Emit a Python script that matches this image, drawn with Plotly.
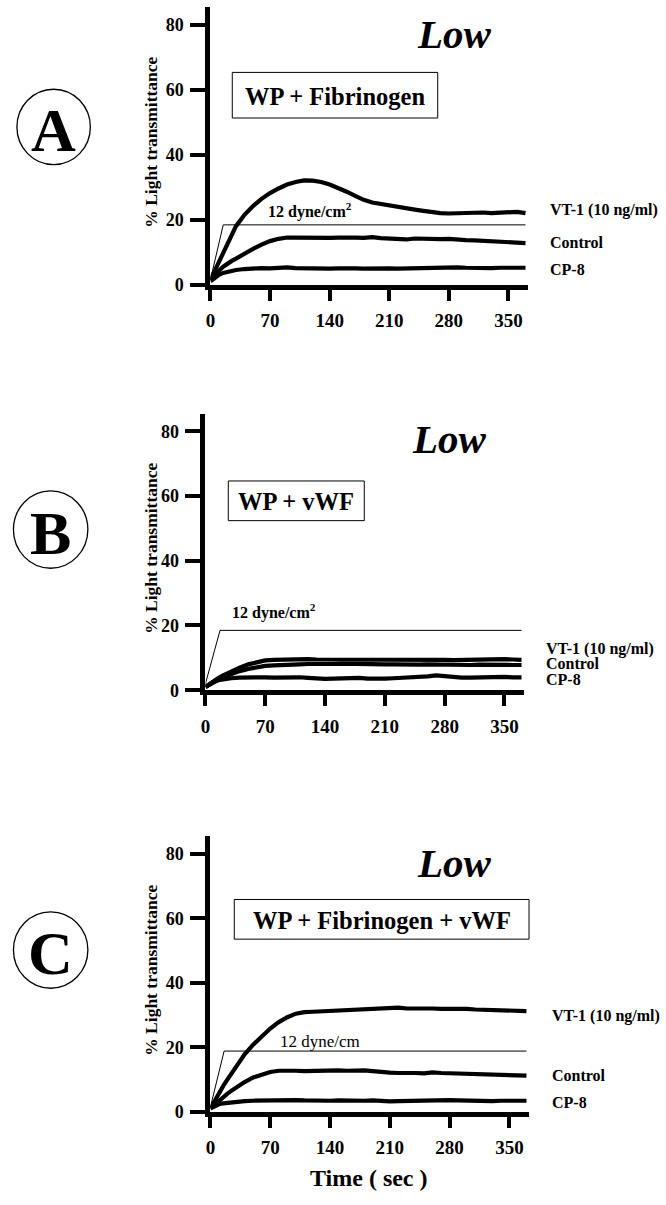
import plotly.graph_objects as go

W, H = 666, 1205

# ---------------- data ----------------
t = [0, 5, 10, 15, 20, 25, 30, 40, 50, 60, 70, 80, 90, 100, 110, 120, 130, 140, 150, 160,
     170, 180, 190, 200, 210, 220, 230, 240, 250, 260, 270, 280, 290, 300, 310, 320, 330,
     340, 350, 360, 370]

a_vt1 = [1.5, 4.3, 7.2, 10, 12.8, 15.4, 18, 21.5, 24.2, 26.4, 28.2, 29.6, 30.8, 31.6, 32.1,
         32, 31.6, 30.8, 29.8, 28.6, 27.3, 26.1, 25.3, 24.8, 24.4, 24, 23.6, 23.1, 22.7, 22.3,
         22, 21.9, 22, 21.9, 22.1, 22.2, 22, 22.2, 22.1, 22.4, 22]
a_ctrl = [1.5, 3, 4.3, 5.5, 6.5, 7.3, 8, 9.6, 11, 12.3, 13.4, 14.1, 14.5, 14.5, 14.4, 14.6,
          14.5, 14.4, 14.5, 14.6, 14.5, 14.4, 14.6, 14.3, 14.1, 14, 13.9, 14.2, 14.1, 13.9,
          14, 14.1, 13.8, 13.7, 13.6, 13.5, 13.4, 13.3, 13.2, 13, 12.8]
a_cp8 = [1, 2.2, 3, 3.6, 4, 4.3, 4.5, 4.8, 5, 5.1, 5, 5.2, 5.3, 5.1, 5, 5.2, 5, 4.9, 5, 5.1,
         5, 4.9, 5, 5.1, 5, 4.9, 5, 5, 5.1, 5.3, 5.4, 5.5, 5.3, 5.2, 5.1, 5.2, 5.1, 5.2, 5.3,
         5.2, 5.2]

b_vt1 = [1, 2, 3, 3.8, 4.5, 5.2, 5.8, 7, 8, 8.7, 9.2, 9.4, 9.5, 9.5, 9.4, 9.6, 9.5, 9.5, 9.6,
         9.7, 9.6, 9.5, 9.4, 9.5, 9.4, 9.5, 9.4, 9.5, 9.4, 9.5, 9.4, 9.4, 9.3, 9.4, 9.4, 9.3,
         9.4, 9.5, 9.6, 9.5, 9.4]
b_ctrl = [1, 1.8, 2.6, 3.3, 3.9, 4.5, 5, 5.9, 6.6, 7.1, 7.5, 7.7, 7.9, 8, 8, 8.1, 8, 8, 8.1,
          8.2, 8.1, 8, 8, 8.1, 8, 8, 7.9, 8, 7.9, 8, 7.9, 7.9, 7.8, 7.9, 7.8, 7.9, 7.8, 7.8,
          7.9, 7.8, 7.8]
b_cp8 = [1, 2, 2.7, 3.1, 3.4, 3.6, 3.7, 3.9, 4, 4, 4, 3.9, 4, 4.1, 4, 3.8, 3.6, 3.5, 3.6, 3.7,
         3.8, 3.8, 3.6, 3.5, 3.6, 3.7, 3.8, 3.9, 4.1, 4.3, 4.6, 4.3, 4, 3.9, 3.9, 4, 4, 4, 4.1,
         4, 4]

c_vt1 = [1, 3.5, 6, 8, 10, 12, 14, 17.8, 20.8, 23.5, 25.8, 27.8, 29.3, 30.4, 30.9, 31, 31.1,
         31.3, 31.5, 31.6, 31.8, 31.9, 32, 32, 32.1, 32.3, 32, 32.1, 32, 32, 31.9, 32, 31.8,
         31.9, 31.7, 31.6, 31.4, 31.5, 31.2, 31.1, 31.2]
c_ctrl = [1, 2.2, 3.5, 4.6, 5.6, 6.6, 7.5, 9.2, 10.6, 11.6, 12.3, 12.7, 12.8, 12.7, 12.6, 12.7,
          12.6, 12.7, 12.8, 12.7, 12.9, 12.8, 12.6, 12.2, 12.1, 12, 12.1, 12, 11.9, 12.2, 12,
          11.9, 12, 11.9, 11.8, 11.7, 11.6, 11.5, 11.3, 11.2, 11.2]
c_cp8 = [1, 1.8, 2.3, 2.6, 2.8, 3, 3.1, 3.3, 3.4, 3.5, 3.6, 3.6, 3.5, 3.6, 3.5, 3.4, 3.5, 3.4,
         3.5, 3.4, 3.3, 3.4, 3.5, 3.3, 3.2, 3.3, 3.4, 3.3, 3.5, 3.6, 3.7, 3.6, 3.5, 3.4, 3.3,
         3.4, 3.3, 3.4, 3.5, 3.4, 3.4]

shear_a_t = [0, 15, 370]
shear_a_y = [1.5, 18.4, 18.4]
shear_b_t = [0, 17, 370]
shear_b_y = [2, 18.5, 18.5]
shear_c_t = [0, 16, 370]
shear_c_y = [1.5, 18.8, 18.8]

x_ticks = [0, 70, 140, 210, 280, 350]
y_ticks = [0, 20, 40, 60, 80]
series_names = ["VT-1 (10 ng/ml)", "Control", "CP-8"]
panel_letters = ["A", "B", "C"]
box_texts = ["WP + Fibrinogen", "WP + vWF", "WP + Fibrinogen + vWF"]
shear_label = ["12 dyne/cm<sup>2</sup>", "12 dyne/cm<sup>2</sup>", "12 dyne/cm"]
cond_label = "Low"
y_title = "% Light transmittance"
x_title = "Time ( sec )"

# ---------------- layout helpers ----------------
FONT = "Liberation Serif"
def px(x):
    return x / W
def py(y):
    return 1 - y / H

panels = [
    dict(x0=207, x1=527, top=7, bot=289, vt=a_vt1, ct=a_ctrl, cp=a_cp8,
         st=shear_a_t, sy=shear_a_y),
    dict(x0=202, x1=523, top=417, bot=698, vt=b_vt1, ct=b_ctrl, cp=b_cp8,
         st=shear_b_t, sy=shear_b_y),
    dict(x0=207, x1=528, top=843, bot=1123, vt=c_vt1, ct=c_ctrl, cp=c_cp8,
         st=shear_c_t, sy=shear_c_y),
]

fig = go.Figure()
layout = dict(
    width=W, height=H, margin=dict(l=0, r=0, t=0, b=0),
    paper_bgcolor="white", plot_bgcolor="white", showlegend=False,
    font=dict(family=FONT, color="black"),
)

for i, p in enumerate(panels):
    n = "" if i == 0 else str(i + 1)
    xa, ya = "x" + n, "y" + n
    for yy in (p["vt"], p["ct"], p["cp"]):
        fig.add_trace(go.Scatter(x=t, y=yy, mode="lines", xaxis=xa, yaxis=ya,
                                 line=dict(color="black", width=4.2), hoverinfo="skip"))
    fig.add_trace(go.Scatter(x=p["st"], y=p["sy"], mode="lines", xaxis=xa, yaxis=ya,
                             line=dict(color="black", width=1), hoverinfo="skip"))
    ax_common = dict(showline=True, linewidth=5, linecolor="black", ticks="outside",
                     tickwidth=4, tickcolor="black", showgrid=False, zeroline=False)
    layout["xaxis" + n] = dict(domain=[px(p["x0"]), px(p["x1"])], anchor=ya,
                               range=[0, 373], tickvals=x_ticks, ticklen=11,
                               ticklabelstandoff=4,
                               tickfont=dict(family=FONT, size=19, color="black",
                                             weight="bold"), **ax_common)
    layout["yaxis" + n] = dict(domain=[py(p["bot"] - 2), py(p["top"])], anchor=xa,
                               range=[0, 85.5], tickvals=y_ticks, ticklen=15,
                               ticklabelstandoff=3,
                               tickfont=dict(family=FONT, size=18, color="black",
                                             weight="bold"), **ax_common)

annotations = []
shapes = []

def ann(text, x, y, size, xanchor="center", yanchor="middle", weight="bold",
        style="normal", angle=0):
    annotations.append(dict(text=text, x=px(x), y=py(y), xref="paper", yref="paper",
                            xanchor=xanchor, yanchor=yanchor, showarrow=False,
                            textangle=angle,
                            font=dict(family=FONT, size=size, color="black",
                                      weight=weight, style=style)))

# panel letters in circles
circles = [(49, 128, 37, 38), (46, 534, 37.5, 39), (46, 958, 37.5, 38.5)]
for letter, (cx, cy, rx, ry) in zip(panel_letters, circles):
    shapes.append(dict(type="circle", xref="paper", yref="paper",
                       x0=px(cx - rx), x1=px(cx + rx), y0=py(cy + ry), y1=py(cy - ry),
                       line=dict(color="black", width=1.3)))
    ann(letter, cx, cy + 3, 62)

# "Low"
for (lx, ly) in [(453, 34), (448, 443), (453, 870)]:
    ann(cond_label, lx, ly, 41, style="italic")

# boxes
boxes = [(229, 73, 436, 119), (225, 485, 362, 525), (231, 907, 528, 947)]
for txt, (bx0, by0, bx1, by1) in zip(box_texts, boxes):
    shapes.append(dict(type="rect", xref="paper", yref="paper",
                       x0=px(bx0), x1=px(bx1), y0=py(by1), y1=py(by0),
                       line=dict(color="black", width=1)))
    ann(txt, (bx0 + bx1) / 2, (by0 + by1) / 2 + 1, 24.5)

# shear labels
ann(shear_label[0], 263, 212, 16, xanchor="left")
ann(shear_label[1], 227, 617, 16, xanchor="left")
ann(shear_label[2], 275, 1050, 17, xanchor="left", weight="normal")

# series labels
lab_pos = [
    (547, [212, 245, 272]),
    (543, [654, 669, 685]),
    (549, [1024, 1085, 1112]),
]
for lx, ys in lab_pos:
    for name, yy in zip(series_names, ys):
        ann(name, lx, yy, 16, xanchor="left")

# y titles
for p in panels:
    ann(y_title, 147, (p["top"] + p["bot"]) / 2 - 5, 17.5, angle=-90)

# x title
ann(x_title, 367, 1188, 24)

layout["annotations"] = annotations
layout["shapes"] = shapes
fig.update_layout(**layout)
fig.write_html("out.html")
